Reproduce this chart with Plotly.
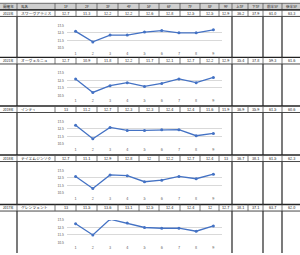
import plotly.graph_objects as go

# ---------------- data ----------------
years = ["2022年", "2021年", "2019年", "2018年", "2017年"]
horses = ["スワーヴアラミス", "オーヴェルニュ", "インティ", "テイエムジンソク", "グレンツェント"]
furlongs = ["1F", "2F", "3F", "4F", "5F", "6F", "7F", "8F", "9F"]
lap_x = [1, 2, 3, 4, 5, 6, 7, 8, 9]
laps_2022 = [12.7, 11.3, 12.2, 12.2, 12.6, 12.8, 12.5, 12.5, 12.9]
laps_2021 = [12.7, 10.9, 11.8, 12.2, 11.7, 12.1, 12.7, 12.2, 12.9]
laps_2019 = [13.0, 11.2, 12.7, 12.3, 12.3, 12.4, 12.4, 11.6, 11.9]
laps_2018 = [12.7, 11.1, 12.9, 12.8, 12.0, 12.2, 12.7, 12.4, 13.0]
laps_2017 = [13.0, 11.5, 13.6, 13.1, 12.5, 12.4, 12.4, 12.0, 12.7]
first3f = [36.2, 35.4, 36.9, 36.7, 38.1]
last3f = [37.9, 37.8, 35.9, 38.1, 37.1]
first5f = [61.0, 59.3, 61.5, 61.5, 63.7]
last5f = [63.3, 61.6, 60.6, 62.3, 62.0]
extra_headers = ["上3F", "下3F", "前半5F", "後半5F"]
y_ticks = [10.5, 11.5, 12.5, 13.5]

all_laps = [laps_2022, laps_2021, laps_2019, laps_2018, laps_2017]

# ---------------- layout (pixels) ----------------
W, H = 300, 255
col_edges = [0, 17, 55, 76, 97, 118, 139, 159, 180, 200, 219, 232, 248, 263, 282, 300]
header_h = 7
block_tops = [7, 55.5, 105, 155, 205.5]
text_h = 6.7
plot_x0, plot_x1 = 67, 222
plot_off_top, plot_h = 15.8, 23

FONT = "Noto Sans CJK JP"
LINE_BLUE = "#4472C4"


def px(x):
    return x / W


def py(y):
    return 1 - y / H


def fmt(v):
    s = f"{v:.1f}"
    return s[:-2] if s.endswith(".0") else s


fig = go.Figure()
shapes = []
annos = []

# header background
shapes.append(dict(type="rect", xref="paper", yref="paper", x0=0, x1=1,
                   y0=py(header_h), y1=py(0), fillcolor="#d0d0d0", line_width=0, layer="below"))

headers = ["開催年", "馬名"] + furlongs + extra_headers
for i, h in enumerate(headers):
    cx = (col_edges[i] + col_edges[i + 1]) / 2
    anc = "center"
    xx = cx
    if i == 1:
        anc = "left"
        xx = col_edges[i] + 2
    annos.append(dict(x=px(xx), y=py(header_h / 2), xref="paper", yref="paper", text=h,
                      showarrow=False, xanchor=anc, yanchor="middle",
                      font=dict(size=3.6, family=FONT, color="#222")))


def hline(y, w, c):
    shapes.append(dict(type="line", xref="paper", yref="paper", x0=0, x1=1, y0=py(y), y1=py(y),
                       line=dict(color=c, width=w)))


def vline(x, y0, y1, w, c):
    shapes.append(dict(type="line", xref="paper", yref="paper", x0=px(x), x1=px(x), y0=py(y0), y1=py(y1),
                       line=dict(color=c, width=w)))


hline(0.3, 0.8, "#555")
hline(header_h, 1, "#333")
for e in col_edges[1:-1]:
    vline(e, 0, header_h, 0.8, "#555")

thick = [17, 232, 263, 282]

for b, top in enumerate(block_tops):
    bottom_text = top + text_h
    hline(top, 1.4, "#222")
    hline(bottom_text, 0.9, "#333")
    for e in col_edges[1:-1]:
        vline(e, top, bottom_text, 0.8, "#555")
    next_top = block_tops[b + 1] if b + 1 < len(block_tops) else H
    for t in thick:
        vline(t, bottom_text, next_top, 1.3, "#333")
    vals = [years[b], horses[b]] + [fmt(v) for v in all_laps[b]] + [
        f"{first3f[b]:.1f}", f"{last3f[b]:.1f}", f"{first5f[b]:.1f}", f"{last5f[b]:.1f}"]
    for i, t in enumerate(vals):
        cx = (col_edges[i] + col_edges[i + 1]) / 2
        anc = "center"
        xx = cx
        size = 3.8
        if i == 0:
            size = 3.3
        if i == 1:
            anc = "left"
            xx = col_edges[i] + 2
        annos.append(dict(x=px(xx), y=py(top + text_h / 2), xref="paper", yref="paper", text=t,
                          showarrow=False, xanchor=anc, yanchor="middle",
                          font=dict(size=size, family=FONT, color="#222")))

    # chart
    k = b + 1
    xa = "x" if k == 1 else f"x{k}"
    ya = "y" if k == 1 else f"y{k}"
    ptop = top + plot_off_top
    pbot = ptop + plot_h
    fig.add_trace(go.Scatter(x=lap_x, y=all_laps[b], mode="lines+markers", xaxis=xa, yaxis=ya,
                             line=dict(color=LINE_BLUE, width=1.3),
                             marker=dict(size=3, color=LINE_BLUE), showlegend=False,
                             hoverinfo="skip"))
    axis_x = dict(domain=[px(plot_x0), px(plot_x1)], range=[0.5, 9.5], tickvals=lap_x,
                  ticktext=[str(v) for v in lap_x], showgrid=False, zeroline=False, showline=False,
                  ticks="", tickfont=dict(size=3.8, color="#595959", family=FONT), fixedrange=True,
                  anchor=ya, ticklabelstandoff=2)
    axis_y = dict(domain=[py(pbot), py(ptop)], range=[10.5, 13.5], tickvals=y_ticks,
                  ticktext=[f"{v:.1f}" for v in y_ticks], showgrid=True, gridcolor="#d9d9d9",
                  gridwidth=0.8, zeroline=False, showline=False, ticks="",
                  tickfont=dict(size=3.4, color="#595959", family=FONT), fixedrange=True,
                  anchor=xa, ticklabelstandoff=2)
    fig.layout[("xaxis" if k == 1 else f"xaxis{k}")] = axis_x
    fig.layout[("yaxis" if k == 1 else f"yaxis{k}")] = axis_y

fig.update_layout(width=W, height=H, margin=dict(l=0, r=0, t=0, b=0),
                  paper_bgcolor="white", plot_bgcolor="white",
                  shapes=shapes, annotations=annos, font=dict(family=FONT))

fig.write_html("out.html")
